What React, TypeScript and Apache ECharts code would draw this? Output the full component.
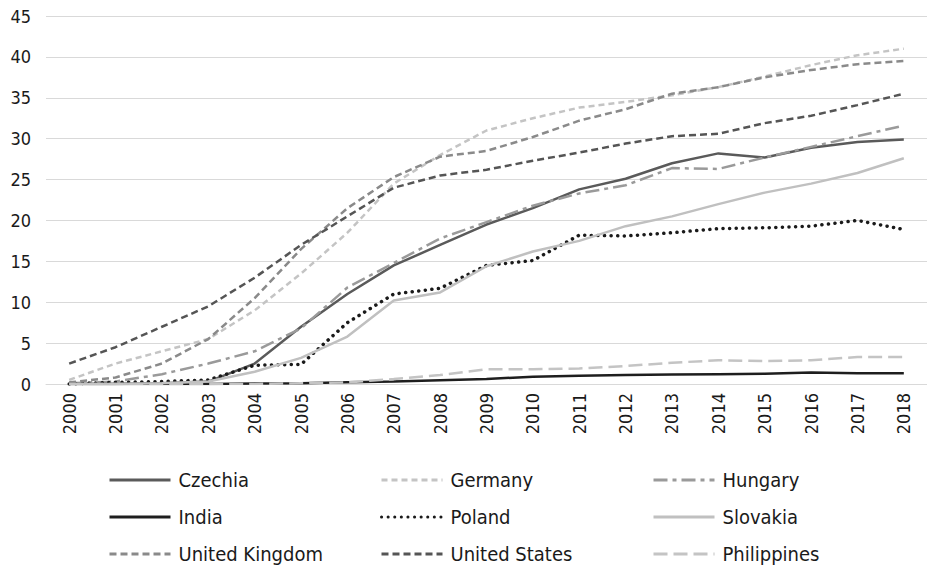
import React, { useEffect, useRef } from "react";
import * as echarts from "echarts";

const years = ["2000","2001","2002","2003","2004","2005","2006","2007","2008","2009","2010","2011","2012","2013","2014","2015","2016","2017","2018"];
const yTicks = [0, 5, 10, 15, 20, 25, 30, 35, 40, 45];

const czechia = [0, 0, 0.1, 0.3, 2.5, 7, 11, 14.5, 17, 19.5, 21.5, 23.8, 25.1, 27, 28.2, 27.7, 28.9, 29.6, 29.9];
const germany = [0.5, 2.5, 4, 5.5, 9, 13.5, 18.5, 24.5, 28, 31, 32.5, 33.8, 34.5, 35.3, 36.3, 37.6, 39, 40.2, 41];
const hungary = [0.1, 0.3, 1.2, 2.5, 4, 6.8, 11.8, 14.8, 17.8, 19.8, 21.8, 23.3, 24.3, 26.4, 26.3, 27.7, 29, 30.3, 31.6];
const india = [0, 0, 0, 0, 0.05, 0.1, 0.2, 0.3, 0.45, 0.6, 0.9, 1.0, 1.1, 1.15, 1.2, 1.25, 1.4, 1.3, 1.3];
const poland = [0, 0.2, 0.3, 0.5, 2.3, 2.4, 7.5, 11, 11.7, 14.5, 15.1, 18.2, 18.1, 18.5, 19, 19.1, 19.3, 20.0, 18.9];
const slovakia = [0, 0, 0.1, 0.3, 1.5, 3.2, 5.8, 10.2, 11.2, 14.4, 16.2, 17.5, 19.3, 20.5, 22, 23.4, 24.5, 25.8, 27.6];
const unitedKingdom = [0.2, 0.8, 2.5, 5.5, 10.5, 16.5, 21.5, 25.3, 27.8, 28.5, 30.2, 32.2, 33.6, 35.5, 36.3, 37.5, 38.4, 39.1, 39.5];
const unitedStates = [2.5, 4.5, 7, 9.5, 13, 17, 20.5, 24, 25.5, 26.2, 27.3, 28.3, 29.4, 30.3, 30.6, 31.9, 32.8, 34.1, 35.5];
const philippines = [0, 0, 0, 0, 0, 0.1, 0.2, 0.6, 1.1, 1.8, 1.8, 1.9, 2.2, 2.6, 2.9, 2.8, 2.9, 3.3, 3.3];

const seriesDefs = [
  { name: "Czechia", data: czechia, color: "#5a5a5a", type: "solid" as any, width: 2.5 },
  { name: "Germany", data: germany, color: "#c4c4c4", type: [6, 4], width: 2.5 },
  { name: "Hungary", data: hungary, color: "#9a9a9a", type: [14, 5, 4, 5], width: 2.5 },
  { name: "India", data: india, color: "#1e1e1e", type: "solid", width: 2.5 },
  { name: "Poland", data: poland, color: "#1a1a1a", type: [0.1, 6.5], width: 3.5, cap: "round" },
  { name: "Slovakia", data: slovakia, color: "#c0c0c0", type: "solid", width: 2.5 },
  { name: "United Kingdom", data: unitedKingdom, color: "#8a8a8a", type: [7, 4], width: 2.5 },
  { name: "United States", data: unitedStates, color: "#555555", type: [7, 4], width: 2.5 },
  { name: "Philippines", data: philippines, color: "#c4c4c4", type: [14, 6], width: 2.5 },
];

const FONT = "'DejaVu Sans Condensed', 'DejaVu Sans', sans-serif";

export default function App() {
  const ref = useRef<HTMLDivElement>(null);
  useEffect(() => {
    if (!ref.current) return;
    const chart = echarts.init(ref.current, null, { renderer: "svg" });
    const legendCol = (names: string[], left: number) => ({
      orient: "vertical",
      left,
      top: 470,
      height: 96,
      padding: 0,
      itemWidth: 61,
      itemHeight: 14,
      itemGap: 17,
      itemStyle: { opacity: 0 },
      lineStyle: { width: 3 },
      data: names,
      textStyle: { fontFamily: FONT, fontSize: 20, lineHeight: 20, color: "#1a1a1a", padding: [0, 0, 0, 3] },
    });
    chart.setOption({
      animation: false,
      backgroundColor: "#ffffff",
      grid: { left: 46, top: 16, width: 885, height: 368, containLabel: false },
      legend: [
        legendCol(["Czechia", "India", "United Kingdom"], 108),
        legendCol(["Germany", "Poland", "United States"], 380),
        legendCol(["Hungary", "Slovakia", "Philippines"], 652),
      ],
      xAxis: {
        type: "category",
        data: years,
        boundaryGap: true,
        axisLine: { show: true, lineStyle: { color: "#d9d9d9", width: 1 } },
        axisTick: { show: false },
        axisLabel: { rotate: 90, fontFamily: FONT, fontSize: 18, color: "#1a1a1a", margin: 9 },
      },
      yAxis: {
        type: "value",
        min: yTicks[0],
        max: yTicks[yTicks.length - 1],
        interval: 5,
        axisLine: { show: false },
        axisTick: { show: false },
        splitLine: { lineStyle: { color: "#d9d9d9", width: 1 } },
        axisLabel: { fontFamily: FONT, fontSize: 18, color: "#1a1a1a", margin: 15 },
      },
      series: seriesDefs.map((s) => ({
        name: s.name,
        type: "line",
        data: s.data,
        symbol: "none",
        smooth: false,
        color: s.color,
        lineStyle: { color: s.color, width: s.width, type: s.type, cap: (s as any).cap || "butt" },
      })),
    });
    return () => chart.dispose();
  }, []);
  return <div ref={ref} style={{ position: "absolute", left: 0, top: 0, width: 927, height: 566 }} />;
}
